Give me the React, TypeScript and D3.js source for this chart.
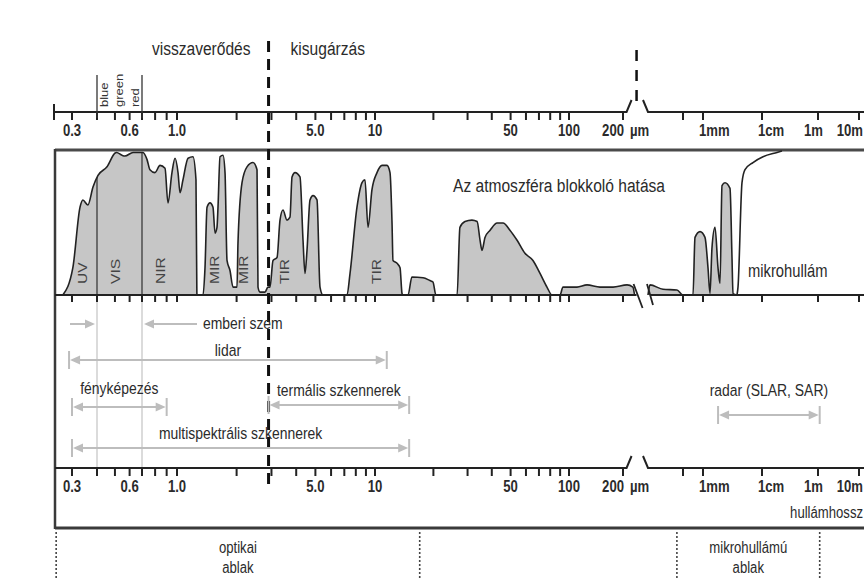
import React, { useEffect, useRef } from 'react';
import * as d3 from 'd3';

// atmospheric transmission, wavelength in µm, transmission in %
const atmosphereOptical: [number, number][] = [
  [0.27, 0], [0.303, 19], [0.329, 61], [0.34, 66], [0.36, 62.5], [0.382, 75], [0.405, 83], [0.453, 89],
  [0.501, 98.6], [0.51, 99], [0.546, 97], [0.566, 96.5], [0.626, 99], [0.707, 99], [0.737, 94], [0.759, 87],
  [0.799, 85], [0.841, 90], [0.885, 88], [0.912, 64], [0.95, 85], [0.98, 95], [1.012, 85], [1.036, 71],
  [1.072, 80], [1.137, 95], [1.204, 96], [1.247, 80], [1.26, 1], [1.27, 0],
  [1.353, 0], [1.385, 19], [1.418, 61], [1.468, 64], [1.52, 61], [1.556, 43], [1.592, 47], [1.611, 61],
  [1.649, 96], [1.707, 97], [1.748, 85], [1.789, 24], [1.852, 17], [1.918, 5.5], [2.01, 5.5], [2.032, 36],
  [2.13, 78], [2.257, 89], [2.42, 92], [2.536, 87], [2.565, 5.5], [2.626, 2], [2.782, 2], [2.88, 5.5],
  [2.95, 5.5], [3.054, 24], [3.2, 26], [3.313, 52], [3.43, 59], [3.594, 52], [3.72, 54], [3.81, 82],
  [3.945, 85], [4.18, 82], [4.33, 38], [4.43, 15], [4.535, 31], [4.696, 66], [4.863, 69], [5.095, 66],
  [5.275, 5.5], [5.46, 0],
  [7.22, 0], [7.48, 15], [8.11, 61], [8.6, 78], [8.9, 80], [9.22, 47], [9.65, 73], [10.24, 85], [10.87, 90],
  [11.53, 90], [11.95, 85], [12.24, 50], [12.38, 24], [12.99, 22], [13.46, 19], [13.78, 1], [13.9, 0],
  [14.8, 0], [15.5, 12.5], [17.7, 12], [19.2, 10], [19.9, 9], [20.6, 0],
  [26.5, 0], [27.4, 47], [29.1, 51], [31.6, 52], [33.6, 51], [34.8, 38], [35.6, 31], [36.9, 40], [39.2, 45],
  [42.6, 50], [45.7, 50], [49.6, 45], [54, 38], [59.3, 29], [65.2, 24], [70.9, 15], [77, 5.5], [81.7, 0],
  [89.9, 0], [93.1, 5.5], [110.8, 5.5], [126, 7], [148.9, 5.5], [176, 5.5], [210.6, 7], [227, 5.5], [232, 0],
];

const atmosphereMicro: [number, number][] = [
  [240, 0], [250, 7], [329, 4], [440, 3.5], [500, 0],
  [707, 0], [758, 40], [902, 44], [1081, 40], [1215, 19], [1314, 1], [1421, 33], [1598, 47], [1796, 19],
  [1942, 8], [2099, 76], [2360, 78], [2869, 74], [3101, 26], [3225, 1], [3770, 0],
];

const microwaveEdge: [number, number][] = [
  [3770, 0], [3920, 5.5], [4581, 78], [5151, 87], [7040, 92], [10860, 96], [34360, 99], [51800, 100],
];

const leftTicks = [0.3, 0.4, 0.5, 0.6, 0.7, 0.8, 0.9, 1, 2, 3, 4, 5, 6, 7, 8, 9, 10, 20, 30, 40, 50, 60, 70, 80, 90, 100, 200];
const rightTicks = [500, 1e3, 1e4, 1e6, 1e7];
const tickLabelValues = [0.3, 0.6, 1, 5, 10, 50, 100, 200, 1e3, 1e4, 1e6, 1e7];
const tickLabelTexts = ['0.3', '0.6', '1.0', '5.0', '10', '50', '100', '200', '1mm', '1cm', '1m', '10m'];

const bandNames = ['UV', 'VIS', 'NIR', 'MIR', 'MIR', 'TIR', 'TIR'];
const bandCenters = [0.34, 0.507, 0.85, 1.556, 2.18, 3.51, 10.24];

const colourNames = ['blue', 'green', 'red'];
const colourCenters = [0.439, 0.529, 0.642];
const visibleRange = [0.4, 0.7];
const reflectEmitBoundary = 2.9;

const sensorNames = ['emberi szem', 'lidar', 'fényképezés', 'termális szkennerek', 'multispektrális szkennerek', 'radar (SLAR, SAR)'];
const sensorFrom = [0.4, 0.29, 0.3, 2.9, 0.3, 1800];
const sensorTo = [0.7, 11.5, 0.9, 15, 15, 1.1e6];

const windowNames = [['optikai', 'ablak'], ['mikrohullámú', 'ablak']];
const windowFrom = [0.25, 440];
const windowTo = [17, 1.1e6];

const FONT = "'Liberation Sans', Arial, sans-serif";
const NARROW = 0.82; // no narrow face installed: squeeze horizontally
const INK = '#2b2b2b';
const ARROW = '#bdbdbd';

const W = 864;
const H = 578;
const Y_TOP_AXIS = 112;
const Y_PANEL = 150;
const Y_BASE = 295;
const Y_MID_AXIS = 468;
const Y_BOTTOM = 528;
const X_LEFT = 55;

const App = () => {
  const ref = useRef<SVGSVGElement>(null);

  useEffect(() => {
    const svg = d3.select(ref.current);
    svg.selectAll('*').remove();

    // piecewise logarithmic wavelength axis with a break after 200 µm
    const xl = d3.scaleLinear().domain([0.3, 0.4, 0.7, 1, 10, 100, 200].map(Math.log10)).range([72, 97, 142, 177, 375, 569, 623]);
    const xr = d3.scaleLinear().domain([240, 500, 1e3, 1e4, 1e6, 1e7].map(Math.log10)).range([648, 683, 703, 762, 818, 859]);
    const x = (v: number) => (v < 236 ? xl(Math.log10(v)) : xr(Math.log10(v)));
    const y = d3.scaleLinear().domain([0, 100]).range([Y_BASE, Y_PANEL + 1]);
    const xb1 = x(232);
    const xb2 = x(240);

    const text = (g: any, t: string, px: number, py: number, size: number, anchor = 'start', weight = 'normal') =>
      g.append('text').attr('transform', `translate(${px},${py}) scale(${NARROW},1)`).attr('font-family', FONT)
        .attr('font-size', size).attr('font-weight', weight).attr('text-anchor', anchor).attr('fill', INK).text(t);
    const vtext = (t: string, px: number, py: number, size: number, fill: string) =>
      svg.append('text').attr('transform', `translate(${px},${py}) rotate(-90) scale(1.3,1)`).attr('dy', '0.35em')
        .attr('font-family', FONT).attr('font-size', size).attr('fill', fill).text(t);

    // frame
    svg.append('line').attr('x1', X_LEFT).attr('x2', W).attr('y1', Y_PANEL).attr('y2', Y_PANEL).attr('stroke', '#4a4a4a').attr('stroke-width', 3);
    svg.append('line').attr('x1', X_LEFT).attr('x2', W).attr('y1', Y_BOTTOM).attr('y2', Y_BOTTOM).attr('stroke', '#3a3a3a').attr('stroke-width', 3);
    svg.append('line').attr('x1', X_LEFT).attr('x2', X_LEFT).attr('y1', Y_PANEL - 1).attr('y2', Y_BOTTOM + 1).attr('stroke', '#3a3a3a').attr('stroke-width', 2.5);

    // visible band guides in the sensor area
    visibleRange.forEach((v) => {
      svg.append('line').attr('x1', x(v)).attr('x2', x(v)).attr('y1', Y_BASE).attr('y2', Y_MID_AXIS)
        .attr('stroke', '#cfcfcf').attr('stroke-width', 1.5);
    });

    // transmission curves
    const area = d3.area<[number, number]>().x((d) => x(d[0])).y0(Y_BASE).y1((d) => y(d[1])).curve(d3.curveMonotoneX);
    const line = d3.line<[number, number]>().x((d) => x(d[0])).y((d) => y(d[1])).curve(d3.curveMonotoneX);
    svg.append('clipPath').attr('id', 'optClip').append('path').attr('d', area(atmosphereOptical));
    [atmosphereOptical, atmosphereMicro].forEach((data) => {
      svg.append('path').attr('d', area(data)).attr('fill', '#c6c6c6');
    });
    visibleRange.forEach((v) => {
      svg.append('line').attr('x1', x(v)).attr('x2', x(v)).attr('y1', Y_PANEL).attr('y2', Y_BASE)
        .attr('stroke', '#3a3a3a').attr('stroke-width', 1.3).attr('clip-path', 'url(#optClip)');
    });
    [atmosphereOptical, atmosphereMicro, microwaveEdge].forEach((data) => {
      svg.append('path').attr('d', line(data)).attr('fill', 'none').attr('stroke', '#222').attr('stroke-width', 1.6)
        .attr('stroke-linejoin', 'round');
    });

    // band names
    bandNames.forEach((t, i) => vtext(t, x(bandCenters[i]), 284, 12, '#444'));
    text(svg, 'Az atmoszféra blokkoló hatása', 453, 192, 19);
    text(svg, 'mikrohullám', 748, 277, 18);

    // axes
    const drawAxis = (ay: number, xStart: number) => {
      const g = svg.append('g');
      g.append('path').attr('d', `M${xStart},${ay}H${xb1 - 8}L${xb1 - 3},${ay - 12}`).attr('fill', 'none').attr('stroke', '#222').attr('stroke-width', 2);
      g.append('path').attr('d', `M${xb2 - 5},${ay - 12}L${xb2},${ay}H${W}`).attr('fill', 'none').attr('stroke', '#222').attr('stroke-width', 2);
      [...leftTicks, ...rightTicks].forEach((v) => {
        g.append('line').attr('x1', x(v)).attr('x2', x(v)).attr('y1', ay).attr('y2', ay + 8).attr('stroke', '#222').attr('stroke-width', 2);
      });
      tickLabelValues.forEach((v, i) => {
        const px = x(v);
        const t = tickLabelTexts[i];
        if (v === 200) {
          text(g, t, px + 1, ay + 24, 16, 'end', 'bold');
          text(g, 'µm', px + 7, ay + 24, 16, 'start', 'bold');
        } else if (v >= 1e6) text(g, t, Math.min(px + 5, W - 1), ay + 24, 16, 'end', 'bold');
        else if (v >= 1e3) text(g, t, px - 4, ay + 24, 16, 'start', 'bold');
        else text(g, t, px, ay + 24, 16, 'middle', 'bold');
      });
    };
    drawAxis(Y_TOP_AXIS, 54);
    svg.append('line').attr('x1', 54).attr('x2', 54).attr('y1', Y_TOP_AXIS - 8).attr('y2', Y_TOP_AXIS + 8).attr('stroke', '#222').attr('stroke-width', 2);
    drawAxis(Y_MID_AXIS, X_LEFT);

    // curve baseline with its own break marks
    const base = svg.append('g');
    base.append('line').attr('x1', X_LEFT).attr('x2', xb1 + 2).attr('y1', Y_BASE).attr('y2', Y_BASE).attr('stroke', '#222').attr('stroke-width', 2);
    base.append('line').attr('x1', xb2 + 2).attr('x2', W).attr('y1', Y_BASE).attr('y2', Y_BASE).attr('stroke', '#222').attr('stroke-width', 2);
    base.append('path').attr('d', `M${xb1 - 1},${Y_BASE - 11}L${xb1 + 8},${Y_BASE + 13}M${xb2 - 1},${Y_BASE - 11}L${xb2 + 5},${Y_BASE + 10}`)
      .attr('stroke', '#222').attr('stroke-width', 1.8).attr('fill', 'none');
    [...leftTicks, ...rightTicks].forEach((v) => {
      base.append('line').attr('x1', x(v)).attr('x2', x(v)).attr('y1', Y_BASE).attr('y2', Y_BASE + 7).attr('stroke', '#222').attr('stroke-width', 2);
    });

    // blue / green / red marker
    visibleRange.forEach((v) => {
      svg.append('line').attr('x1', x(v)).attr('x2', x(v)).attr('y1', 75).attr('y2', Y_TOP_AXIS + 6).attr('stroke', '#333').attr('stroke-width', 1.3);
    });
    colourNames.forEach((t, i) => vtext(t, x(colourCenters[i]), 107, 10, '#333'));

    // reflection / emission boundary
    const xb = x(reflectEmitBoundary);
    svg.append('line').attr('x1', xb).attr('x2', xb).attr('y1', 41).attr('y2', 491).attr('stroke', '#111')
      .attr('stroke-width', 3).attr('stroke-dasharray', '11 7');
    svg.append('line').attr('x1', xb1 + 2).attr('x2', xb1 + 2).attr('y1', 50).attr('y2', 108).attr('stroke', '#111')
      .attr('stroke-width', 2.5).attr('stroke-dasharray', '11 9');
    text(svg, 'visszaverődés', xb - 18, 55, 19, 'end');
    text(svg, 'kisugárzás', xb + 22, 55, 19, 'start');

    // sensors
    const head = (g: any, tip: number, yy: number, dir: number) =>
      g.append('path').attr('d', `M${tip},${yy}L${tip - dir * 10},${yy - 4.5}L${tip - dir * 10},${yy + 4.5}Z`).attr('fill', ARROW);
    const rowY = [324, 360, 407, 405, 448, 415];
    const labelDy = [5, -4, -13, -9, -9, -19];
    sensorNames.forEach((name, i) => {
      const g = svg.append('g');
      const yy = rowY[i];
      const a = x(sensorFrom[i]);
      const b = x(sensorTo[i]);
      if (i === 0) {
        g.append('line').attr('x1', a - 27).attr('x2', a - 6).attr('y1', yy).attr('y2', yy).attr('stroke', ARROW).attr('stroke-width', 2);
        head(g, a - 2, yy, 1);
        g.append('line').attr('x1', b + 6).attr('x2', b + 55).attr('y1', yy).attr('y2', yy).attr('stroke', ARROW).attr('stroke-width', 2);
        head(g, b + 2, yy, -1);
        text(g, name, b + 61, yy + labelDy[i], 17);
        return;
      }
      g.append('line').attr('x1', a + 4).attr('x2', b - 4).attr('y1', yy).attr('y2', yy).attr('stroke', ARROW).attr('stroke-width', 2);
      [a, b].forEach((p) => {
        g.append('line').attr('x1', p).attr('x2', p).attr('y1', yy - 9).attr('y2', yy + 9).attr('stroke', ARROW).attr('stroke-width', 2);
      });
      head(g, a + 1, yy, -1);
      head(g, b - 1, yy, 1);
      text(g, name, (a + b) / 2, yy + labelDy[i], 17, 'middle');
    });

    text(svg, 'hullámhossz', W - 1, 518, 16, 'end');

    // atmospheric windows
    windowNames.forEach((lines, i) => {
      const a = x(windowFrom[i]);
      const b = x(windowTo[i]);
      [a, b].forEach((p) => {
        svg.append('line').attr('x1', p).attr('x2', p).attr('y1', Y_BOTTOM + 4).attr('y2', H).attr('stroke', '#444')
          .attr('stroke-width', 1.6).attr('stroke-dasharray', '2 2');
      });
      lines.forEach((t, j) => text(svg, t, (a + b) / 2, 553 + j * 20, 16, 'middle'));
    });
  }, []);

  return <svg ref={ref} width={W} height={H} style={{ position: 'absolute', left: 0, top: 0, background: '#fff' }} />;
};

export default App;
